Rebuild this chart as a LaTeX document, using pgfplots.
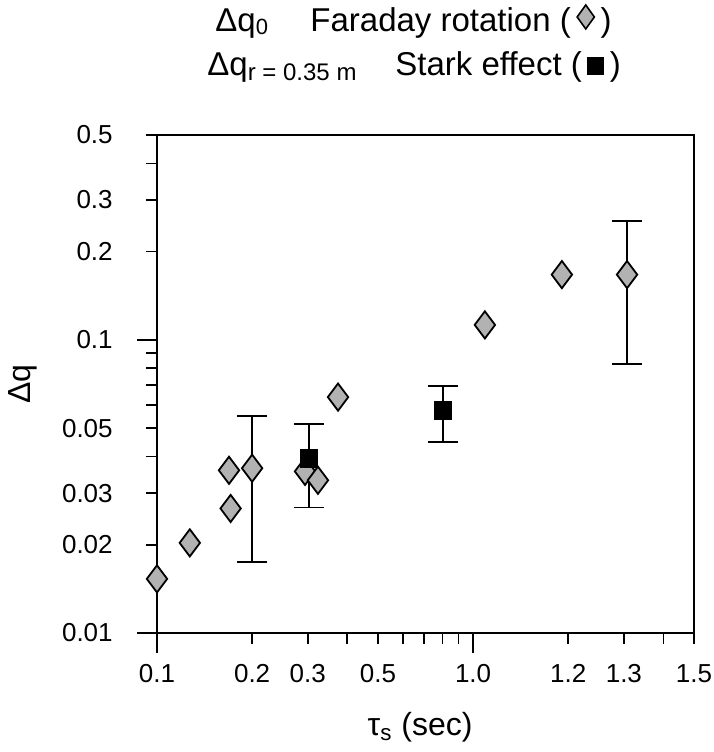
\documentclass[border=0pt]{standalone}
\usepackage{fontspec}
\setmainfont{Liberation Sans}
\usepackage{pgfplots}
\pgfplotsset{compat=1.18}
\usetikzlibrary{calc}

\begin{document}
\begin{tikzpicture}
\begin{axis}[
  name=ax,
  scale only axis,
  width=268.5pt, height=249pt,
  xmode=log, ymode=log,
  xmin=0.1, xmax=5, ymin=0.01, ymax=0.5,
  axis line style={line width=0.9pt},
  tick style={line width=0.8pt, black},
  tick align=outside,
  xtick pos=bottom, ytick pos=left,
  xtick={0.1,0.2,0.3,0.5,1,2,3,5},
  xticklabels={0.1,0.2,0.3,0.5,1.0,1.2,1.3,1.5},
  minor xtick={0.4,0.6,0.7,0.8,0.9,4},
  ytick={0.01,0.02,0.03,0.05,0.1,0.2,0.3,0.5},
  yticklabels={0.01,0.02,0.03,0.05,0.1,0.2,0.3,0.5},
  minor ytick={0.04,0.06,0.07,0.08,0.09,0.4},
  major tick length=5.5pt, minor tick length=5.5pt,
  extra x ticks={0.1,1}, extra x tick labels={,},
  extra y ticks={0.01,0.1}, extra y tick labels={,},
  extra tick style={major tick length=10pt},
  ticklabel style={font=\fontsize{13}{13}\selectfont, inner sep=0pt},
  xticklabel style={anchor=base, yshift=-19.5pt},
  yticklabel style={anchor=east, xshift=-16.5pt},
  xlabel={τ\textsubscript{s} (sec)},
  ylabel={Δq},
  xlabel style={at={(axis description cs:0.49,0)}, anchor=base, yshift=-51pt, inner sep=0pt, font=\fontsize{16}{16}\selectfont},
  ylabel style={at={(axis description cs:-0.2495,0.5)}, anchor=center, inner sep=0pt, font=\fontsize{16}{16}\selectfont},
  clip=false,
]
% error bars first, so the marks sit on top of them
\addplot[forget plot, only marks, mark=none,
  error bars/.cd, y dir=both, y explicit, error mark=-,
  error bar style={line width=0.9pt, black},
  error mark options={rotate=90, black, line width=0.9pt, mark size=7.5pt}]
  table[x=x, y=y, y error plus=ep, y error minus=em] {
x     y       ep      em
0.200 0.0365  0.0185  0.0190
3.07  0.167   0.087   0.0842
0.303 0.0394  0.0122  0.0126
0.803 0.0575  0.0120  0.0127
};
% Faraday rotation
\addplot[only marks, mark=diamond*, mark size=6.8pt,
  mark options={fill=black!30, draw=black, line width=0.9pt}]
  coordinates {
(0.100,0.0153) (0.127,0.0203) (0.169,0.0359) (0.171,0.0266)
(0.200,0.0365) (0.294,0.0356) (0.323,0.0332) (0.374,0.0638)
(1.09,0.1125) (1.91,0.167) (3.07,0.167)
};
% Stark effect
\addplot[only marks, mark=square*, mark size=4.3pt,
  mark options={fill=black, draw=black}]
  coordinates {(0.303,0.0394) (0.803,0.0575)};
\end{axis}
% two-line title
\node[anchor=base west, inner sep=0pt, font=\fontsize{16.5}{16.5}\selectfont]
  at ($(ax.north west)+(29pt,51.5pt)$) {Δq\raisebox{-1.5pt}{\fontsize{11}{11}\selectfont 0}};
\node[anchor=base west, inner sep=0pt, font=\fontsize{16.5}{16.5}\selectfont]
  at ($(ax.north west)+(76.5pt,51.5pt)$) {Faraday rotation (\,\tikz[baseline=0pt]\draw[line width=0.8pt, fill=black!30] (0,1.5pt) -- (4.3pt,7.5pt) -- (0,13.5pt) -- (-4.3pt,7.5pt) -- cycle;\,)};
\node[anchor=base west, inner sep=0pt, font=\fontsize{16.5}{16.5}\selectfont]
  at ($(ax.north west)+(25pt,29.5pt)$) {Δq\raisebox{-2.5pt}{\fontsize{12}{12}\selectfont r = 0.35 m}};
\node[anchor=base west, inner sep=0pt, font=\fontsize{16.5}{16.5}\selectfont]
  at ($(ax.north west)+(119pt,29.5pt)$) {Stark effect (\,\rule[0.5pt]{8.5pt}{9pt}\,)};
\pgfresetboundingbox
\path ($(ax.south west)+(-78.5pt,-59.5pt)$) rectangle ($(ax.north east)+(10pt,67.5pt)$);
\end{tikzpicture}
\end{document}
